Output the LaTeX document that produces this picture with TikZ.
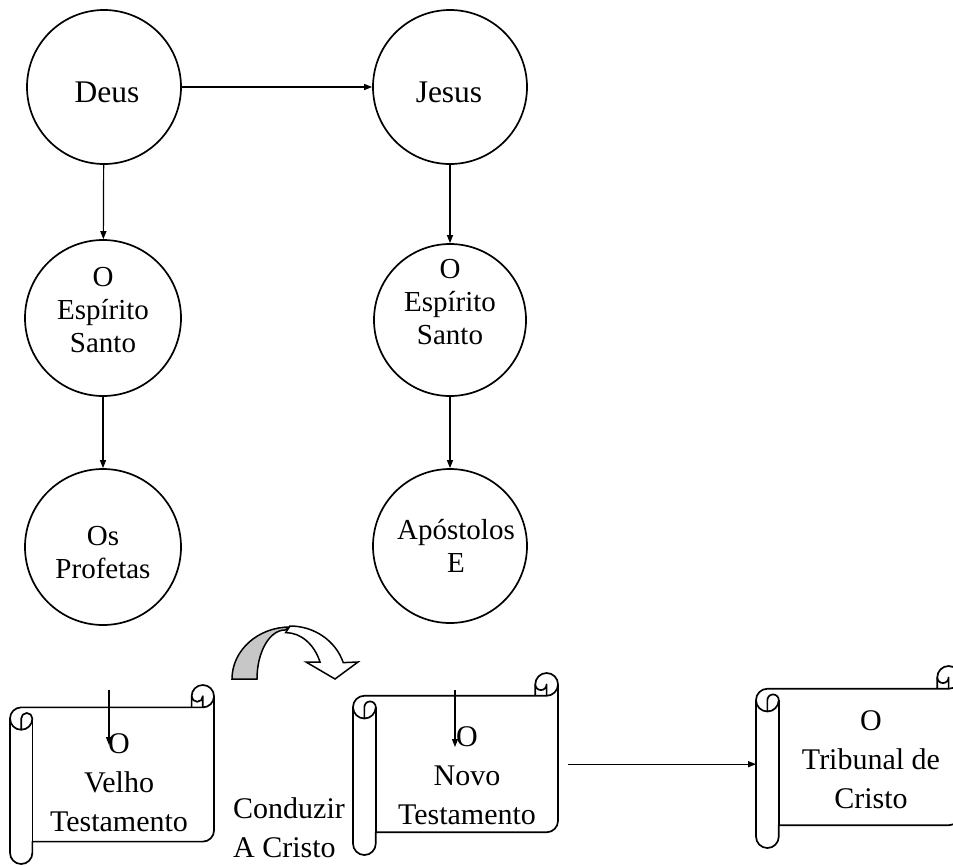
\documentclass[tikz,border=0pt]{standalone}
\usepackage{fontspec}
\setmainfont{Liberation Serif}
\usetikzlibrary{arrows.meta,positioning}

\tikzset{
  orb/.style={draw, circle, line width=1.7pt, minimum size=154pt, inner sep=0pt},
  txt/.style={font=\fontsize{29}{33}\selectfont, align=center, inner sep=0pt},
  big/.style={font=\fontsize{30}{39}\selectfont, align=center, inner sep=0pt},
  link/.style={->, line width=1.2pt},
  scrollline/.style={line width=1.7pt, line join=round},
}

% scroll: name, left, top, right, bottom (top-down pixel values)
\newcommand{\drawscroll}[5]{%
  \pgfmathsetmacro{\scrw}{#4-#2}%
  \pgfmathsetmacro{\scrh}{#5-#3}%
  \pgfmathsetmacro{\scrc}{0.125*min(\scrw,\scrh)}%
  \node[inner sep=0pt, minimum width=\scrw pt, minimum height=\scrh pt, anchor=north west] (#1) at (#2,-#3) {};
  \begin{scope}[shift={(#2,-#3)}, scrollline]
    \filldraw[fill=white] (0,-1.5*\scrc) arc[start angle=180, end angle=90, radius=0.5*\scrc]
      -- (\scrw-\scrc,-\scrc) -- (\scrw-\scrc,-0.5*\scrc) arc[start angle=180, end angle=0, radius=0.5*\scrc]
      -- (\scrw,-\scrh+1.5*\scrc) arc[start angle=0, end angle=-90, radius=0.5*\scrc]
      -- (\scrc,-\scrh+\scrc) -- (\scrc,-\scrh+0.5*\scrc) arc[start angle=0, end angle=-180, radius=0.5*\scrc] -- cycle;
    \draw (\scrw-\scrc,-\scrc) -- (\scrw-0.5*\scrc,-\scrc) arc[start angle=-90, end angle=0, radius=0.5*\scrc];
    \draw (\scrw-0.5*\scrc,-\scrc) -- (\scrw-0.5*\scrc,-0.5*\scrc) arc[start angle=0, end angle=-180, radius=0.25*\scrc];
    \draw (0.5*\scrc,-2*\scrc) -- (0.5*\scrc,-1.5*\scrc) arc[start angle=180, end angle=0, radius=0.25*\scrc]
      arc[start angle=0, end angle=-180, radius=0.5*\scrc];
    \draw (\scrc,-1.5*\scrc) -- (\scrc,-\scrh+\scrc);
  \end{scope}}

\begin{document}
\begin{tikzpicture}[x=1pt, y=1pt, >={Triangle[length=8pt,width=6pt]}]
\useasboundingbox (0,0) rectangle (953,-865);
\clip (0,0) rectangle (953,-865);

% circles
\node[orb] (deus) at (104,-87) {};
\node[orb] (jesus) at (450,-87) {};
\node[orb, minimum size=156pt] (esp1) at (103,-318) {};
\node[orb, minimum size=152pt] (esp2) at (450,-320) {};
\node[orb, minimum size=156pt] (prof) at (103,-547) {};
\node[orb] (apost) at (450,-546) {};

\node[txt, font=\fontsize{31.5}{36}\selectfont] (deus-t) at (107,-92) {Deus};
\node[txt, font=\fontsize{31.5}{36}\selectfont] (jesus-t) at (449,-92) {Jesus};
\node[txt] (esp1-t) at (103,-310) {O\\Esp\'{\i}rito\\Santo};
\node[txt] (esp2-t) at (450,-302) {O\\Esp\'{\i}rito\\Santo};
\node[txt] (prof-t) at (103,-553) {Os\\Profetas};
\node[txt] (apost-t) at (456,-546) {Ap\'ostolos\\E};

\draw[link] (deus) -- (jesus);
\draw[link] (deus) -- (esp1);
\draw[link] (esp1) -- (prof);
\draw[link] (jesus) -- (esp2);
\draw[link] (esp2) -- (apost);

% scrolls
\drawscroll{velho}{10}{685}{214}{864}
\drawscroll{novo}{353}{673}{558}{855}
\drawscroll{trib}{756}{666}{960}{848}

\node[big] (velho-t) at (119,-783) {O\\Velho\\Testamento};
\node[big] (novo-t) at (467,-776) {O\\Novo\\Testamento};
\node[big] (trib-t) at (871,-760) {O\\Tribunal de\\Cristo};
\node[big, align=left] (cond-t) at (289,-828) {Conduzir\\A Cristo};

% curved arrow
\filldraw[fill=black!22, line width=1.5pt] (232,-679) arc[start angle=180, end angle=90, x radius=58, y radius=52]
  -- (285,-630) arc[start angle=90, end angle=180, x radius=28, y radius=49] -- cycle;
\filldraw[fill=white, line width=1.5pt] (306,-662) -- (320,-662) arc[start angle=22, end angle=90, x radius=37, y radius=47]
  -- (290,-626) arc[start angle=90, end angle=18, x radius=56, y radius=53] -- (358,-662) -- (335,-679) -- cycle;

\coordinate (vtop) at (109,-690);
\coordinate (vtip) at (109,-745);
\coordinate (ntop) at (455,-690);
\coordinate (ntip) at (455,-747);

\draw[link] (vtop) -- (vtip);
\draw[link] (ntop) -- (ntip);
\draw[link] ([xshift=10pt]novo.east) -- (novo.east -| trib.west);
\end{tikzpicture}
\end{document}
